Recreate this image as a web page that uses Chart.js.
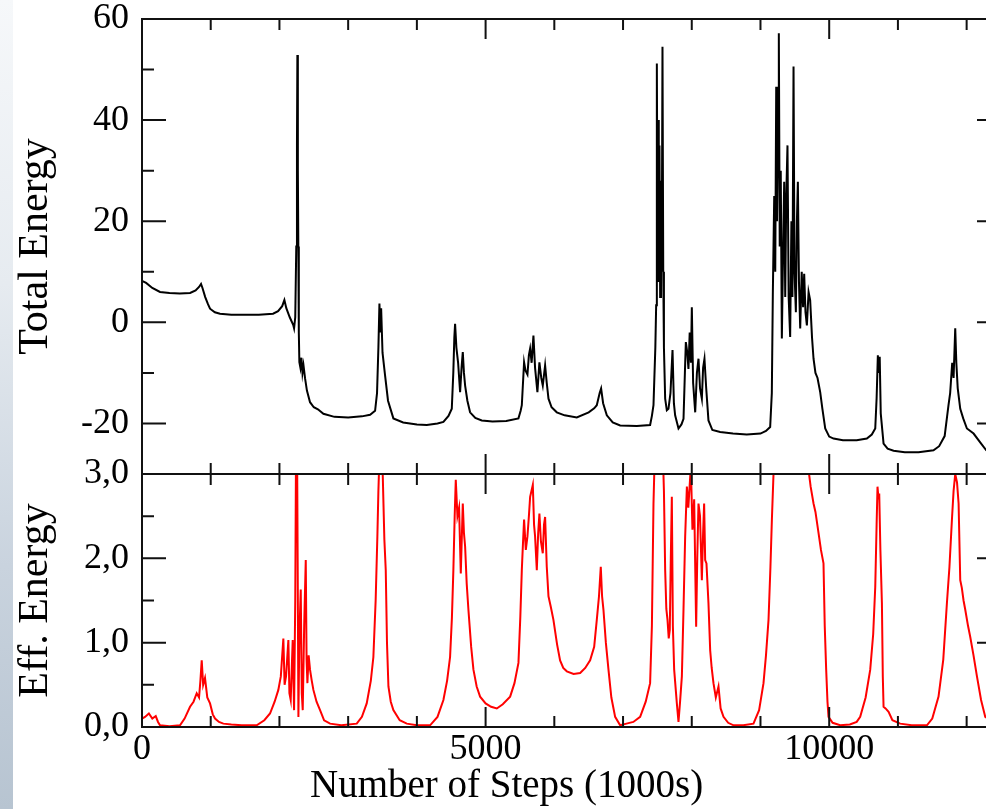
<!DOCTYPE html>
<html>
<head>
<meta charset="utf-8">
<script src="https://cdn.jsdelivr.net/npm/chart.js@4.4.1/dist/chart.umd.min.js"></script>
<style>
  html, body { margin: 0; padding: 0; background: #fff; overflow: hidden; width: 986px; height: 809px; }
  #strip { position: absolute; left: 0; top: 0; width: 13px; height: 809px;
           background: linear-gradient(to bottom, #f6f8fa 0%, #e6ebf0 35%, #c9d3de 70%, #b7c4d1 100%); }
  #wrap { position: absolute; left: 0; top: 0; width: 1004px; height: 809px; }
</style>
</head>
<body>
<div id="strip"></div>
<div id="wrap"><canvas id="canvas" width="1004" height="809"></canvas></div>
<script>
// steps (1000s) and total energy
var totalSteps = [0, 60, 150, 262, 400, 550, 700, 780, 830, 859, 880, 920, 960, 990, 1060, 1135, 1300, 1500, 1700, 1907,
  1980, 2040, 2072, 2100, 2150, 2200, 2213, 2230, 2245, 2255, 2261, 2268, 2275, 2282, 2290, 2305, 2320, 2335, 2350, 2373,
  2400, 2445, 2500, 2560, 2640, 2800, 3000, 3200, 3319, 3392, 3420, 3440, 3455, 3470, 3480, 3500, 3537, 3580, 3658, 3800,
  4000, 4144, 4300, 4386, 4460, 4508, 4530, 4545, 4556, 4575, 4600, 4629, 4650, 4668, 4685, 4702, 4735, 4774, 4850, 4944,
  5100, 5300, 5478, 5510, 5527, 5560, 5580, 5609, 5630, 5648, 5670, 5696, 5720, 5754, 5783, 5810, 5832, 5866, 5890, 5915,
  5960, 6036, 6150, 6327, 6500, 6580, 6618, 6660, 6681, 6710, 6764, 6850, 6958, 7200, 7394, 7420, 7443, 7470, 7482, 7492,
  7500, 7510, 7520, 7530, 7540, 7552, 7563, 7574, 7585, 7595, 7613, 7637, 7661, 7690, 7720, 7740, 7758, 7807, 7850, 7880,
  7900, 7914, 7935, 7952, 7970, 7988, 8001, 8020, 8050, 8075, 8098, 8120, 8147, 8165, 8185, 8210, 8243, 8300, 8413, 8600,
  8800, 9000, 9080, 9141, 9165, 9180, 9200, 9215, 9229, 9240, 9255, 9267, 9280, 9295, 9311, 9330, 9345, 9360, 9375, 9393,
  9410, 9432, 9450, 9465, 9481, 9495, 9515, 9530, 9544, 9560, 9578, 9600, 9620, 9636, 9655, 9675, 9700, 9723, 9750, 9772,
  9800, 9830, 9869, 9900, 9942, 10000, 10063, 10200, 10400, 10548, 10620, 10670, 10690, 10708, 10720, 10735, 10750, 10791, 10850, 10937,
  11100, 11300, 11518, 11600, 11680, 11736, 11760, 11790, 11810, 11834, 11850, 11870, 11907, 11950, 12004, 12101, 12200, 12285, 12400, 12500];
var totalEnergy = [8.2, 7.8, 6.8, 6.0, 5.8, 5.7, 5.8, 6.3, 7.0, 7.6, 6.8, 5.0, 3.6, 2.7, 2.0, 1.7, 1.5, 1.5, 1.5, 1.7,
  2.2, 3.2, 4.4, 2.8, 1.0, -0.5, -1.2, 1.0, 15, 35, 52.9, 30, 15, -2, -7.9, -9.0, -7.0, -10, -8.5, -11.1,
  -13.5, -15.8, -16.8, -17.2, -18.1, -18.7, -18.8, -18.6, -18.3, -17.5, -14, -5, 3.7, -2, 2.8, -6, -10.5, -15.5, -19.0, -19.8,
  -20.2, -20.3, -20.0, -19.7, -18.5, -17.1, -10, -3, -0.3, -5, -8, -13.8, -9, -5.9, -10, -12.5, -15.5, -17.8, -18.9, -19.4,
  -19.6, -19.5, -19.0, -17.5, -16.4, -7.9, -9.5, -10.3, -6.5, -5.2, -8, -2.6, -9, -13.8, -7.9, -11, -12.5, -8.5, -12, -15.1,
  -16.8, -17.8, -18.4, -18.8, -17.8, -17.0, -16.4, -14.0, -13.1, -16.0, -18.4, -19.8, -20.4, -20.5, -20.3, -18.5, -16.4, -5, 3.4, 51.2,
  20, 40, 8, 35, 5, 28, 10, 54.5, 10, -5, -15.1, -17.4, -17.1, -14, -5.5, -16, -18.4, -21.0, -20.2, -19.1,
  -10, -3.9, -6, -9.2, -2, -8, 3.0, -12, -17.8, -10, -7.2, -13, -15.1, -9, -7.2, -13, -19.4, -21.3, -21.7, -22.0,
  -22.2, -22.0, -21.5, -20.7, -14, 6.0, 25, 10, 46.6, 20, 40, 57.2, 15, 30, -3.2, 15, 27.8, 5, 25, 35.0,
  5, -2.9, 20, 5, 50.6, 10, 2.0, 20, 27.8, 8, -1.2, 10, 3, 9.6, 2, -0.6, 6, 4.4, -3, -7.2,
  -10, -11, -13.8, -17, -21.0, -22.6, -23.0, -23.3, -23.3, -23.0, -22.2, -21.0, -15, -6.5, -10, -6.8, -18, -24.0, -25.0, -25.4,
  -25.7, -25.7, -25.3, -24.5, -22.5, -16.4, -14, -8, -11, -1.2, -8, -13, -17.1, -19, -21.0, -22.0, -23.8, -25.3, -26, -26.3];

// steps (1000s) and effective energy
var effSteps = [0, 44, 100, 150, 200, 233, 262, 400, 553, 620, 699, 750, 796, 830, 850, 869, 890, 917, 950, 990,
  1030, 1063, 1120, 1184, 1300, 1450, 1669, 1780, 1863, 1930, 1984, 2020, 2057, 2075, 2096, 2130, 2145, 2164, 2193, 2213,
  2230, 2242, 2255, 2265, 2276, 2290, 2310, 2325, 2339, 2360, 2383, 2395, 2407, 2425, 2445, 2470, 2494, 2540, 2591, 2650,
  2737, 2900, 3125, 3200, 3270, 3330, 3367, 3400, 3425, 3440, 3455, 3480, 3503, 3527, 3547, 3565, 3586, 3620, 3658, 3750,
  3853, 4000, 4192, 4300, 4386, 4440, 4483, 4510, 4531, 4550, 4566, 4590, 4614, 4639, 4668, 4685, 4702, 4725, 4750, 4790,
  4823, 4870, 4920, 5000, 5080, 5163, 5250, 5357, 5420, 5478, 5505, 5527, 5545, 5560, 5585, 5609, 5630, 5648, 5687, 5705,
  5720, 5745, 5765, 5783, 5805, 5832, 5850, 5866, 5890, 5915, 5950, 5987, 6040, 6084, 6130, 6182, 6280, 6376, 6450, 6521,
  6580, 6618, 6650, 6676, 6695, 6715, 6750, 6788, 6830, 6885, 6958, 7050, 7150, 7249, 7330, 7394, 7420, 7443, 7470, 7500,
  7530, 7560, 7574, 7595, 7613, 7630, 7647, 7665, 7680, 7695, 7710, 7725, 7744, 7783, 7807, 7830, 7856, 7880, 7904, 7929,
  7950, 7987, 8010, 8035, 8064, 8080, 8098, 8120, 8147, 8165, 8180, 8195, 8214, 8243, 8268, 8290, 8316, 8350, 8389, 8420,
  8462, 8530, 8608, 8750, 8898, 8980, 9044, 9080, 9117, 9145, 9166, 9190, 9230, 9400, 9600, 9699, 9730, 9772, 9800, 9845,
  9880, 9917, 9935, 9956, 9975, 9990, 10050, 10160, 10300, 10400, 10451, 10530, 10597, 10640, 10670, 10690, 10703, 10718, 10728, 10745,
  10767, 10780, 10791, 10820, 10864, 10920, 11033, 11200, 11422, 11500, 11591, 11660, 11713, 11750, 11786, 11810, 11834, 11860, 11883, 11907,
  11930, 11955, 11980, 12020, 12052, 12100, 12150, 12210, 12271, 12400, 12500];
var effEnergy = [0.10, 0.12, 0.16, 0.10, 0.13, 0.06, 0.02, 0.01, 0.02, 0.10, 0.24, 0.30, 0.40, 0.35, 0.55, 0.79, 0.50, 0.58, 0.35, 0.28,
  0.15, 0.10, 0.06, 0.04, 0.03, 0.02, 0.02, 0.08, 0.16, 0.30, 0.44, 0.60, 1.05, 0.50, 0.60, 1.03, 0.40, 0.32, 1.03, 0.20,
  1.5, 3.4, 3.6, 2.0, 0.12, 1.1, 1.63, 0.4, 0.2, 1.2, 1.98, 0.8, 0.52, 0.85, 0.68, 0.55, 0.44, 0.30, 0.20, 0.08,
  0.04, 0.02, 0.04, 0.12, 0.28, 0.55, 0.83, 1.5, 2.26, 2.8, 3.2, 3.3, 3.0, 2.22, 1.86, 1.0, 0.48, 0.30, 0.20, 0.08,
  0.04, 0.02, 0.02, 0.12, 0.32, 0.55, 0.83, 1.3, 1.86, 2.5, 2.93, 2.5, 2.6, 1.82, 2.65, 2.3, 2.14, 1.7, 1.39, 0.95,
  0.68, 0.48, 0.36, 0.28, 0.24, 0.22, 0.27, 0.36, 0.52, 0.76, 1.3, 1.86, 2.2, 2.46, 2.1, 2.26, 2.5, 2.73, 2.87, 2.4,
  2.26, 1.86, 2.3, 2.53, 2.2, 2.06, 2.4, 2.49, 1.9, 1.55, 1.42, 1.27, 0.98, 0.79, 0.70, 0.66, 0.63, 0.64, 0.70, 0.79,
  0.95, 1.27, 1.55, 1.90, 1.55, 1.39, 1.00, 0.68, 0.35, 0.12, 0.02, 0.04, 0.06, 0.12, 0.30, 0.52, 1.2, 2.65, 3.5, 3.4,
  3.5, 3.4, 3.4, 2.8, 1.86, 1.4, 1.27, 1.05, 1.15, 2.0, 2.73, 1.2, 0.68, 0.28, 0.06, 0.30, 0.60, 1.4, 2.26, 2.85,
  2.6, 3.1, 2.34, 2.7, 1.19, 2.0, 2.65, 2.5, 1.74, 2.3, 2.65, 1.98, 1.94, 1.47, 0.91, 0.70, 0.52, 0.35, 0.48, 0.22,
  0.12, 0.05, 0.02, 0.02, 0.04, 0.20, 0.52, 0.85, 1.27, 1.9, 2.46, 3.01, 3.5, 3.6, 3.5, 3.05, 2.85, 2.65, 2.55, 2.30,
  2.1, 1.94, 1.2, 0.68, 0.3, 0.12, 0.05, 0.02, 0.03, 0.06, 0.12, 0.35, 0.68, 1.1, 1.66, 2.4, 2.85, 2.7, 2.77, 2.1,
  1.47, 0.6, 0.24, 0.22, 0.18, 0.08, 0.04, 0.02, 0.02, 0.10, 0.36, 0.80, 1.47, 1.9, 2.46, 2.8, 3.0, 2.9, 2.65, 1.74,
  1.65, 1.5, 1.39, 1.2, 1.07, 0.85, 0.60, 0.32, 0.12, 0.05, 0.03];

// tick values and their labels ('' = minor tick, no label)
var xTicks = [0, 1000, 2000, 3000, 4000, 5000, 6000, 7000, 8000, 9000, 10000, 11000, 12000];
var xLabels = ['0', '', '', '', '', '5000', '', '', '', '', '10000', '', ''];
var topTicks = [-30, -20, -10, 0, 10, 20, 30, 40, 50, 60];
var topLabels = ['', '-20', '', '0', '', '20', '', '40', '', '60'];
var botTicks = [0, 0.5, 1, 1.5, 2, 2.5, 3];
var botLabels = ['0,0', '', '1,0', '', '2,0', '', '3,0'];

var serif = '"Liberation Serif", "Times New Roman", serif';

function pairs(xs, ys) {
    return xs.map(function (x, i) { return {x: x, y: ys[i]}; });
}

// fixed tick lists instead of letting chart.js pick them
function fixTicks(values, labels) {
    return {
        afterBuildTicks: function (s) { s.ticks = values.map(function (v) { return {value: v}; }); },
        afterTickToLabelConversion: function (s) {
            s.ticks.forEach(function (t) { t.label = labels[values.indexOf(t.value)]; });
        }
    };
}

// frame round each panel and inward ticks on all four sides (xmgrace style)
var frameTicks = {
    id: 'frameTicks',
    afterDatasetsDraw: function (chart) {
        var ctx = chart.ctx;
        var area = chart.chartArea;
        var xs = chart.scales.x;
        ctx.save();
        ctx.strokeStyle = '#111';
        ctx.lineWidth = 2;
        ['yTop', 'yBot'].forEach(function (id) {
            var ys = chart.scales[id];
            ctx.strokeRect(area.left, ys.top, area.right - area.left, ys.bottom - ys.top);
            ctx.beginPath();
            ys.ticks.forEach(function (t) {
                var py = ys.getPixelForValue(t.value);
                var len = t.label ? 24 : 12;
                ctx.moveTo(area.left, py); ctx.lineTo(area.left + len, py);
                ctx.moveTo(area.right, py); ctx.lineTo(area.right - len, py);
            });
            xs.ticks.forEach(function (t) {
                var px = xs.getPixelForValue(t.value);
                var len = t.label ? 20 : 11;
                ctx.moveTo(px, ys.top); ctx.lineTo(px, ys.top + len);
                ctx.moveTo(px, ys.bottom); ctx.lineTo(px, ys.bottom - len);
            });
            ctx.stroke();
        });
        // x axis title, set left of centre like the original
        ctx.fillStyle = '#000';
        ctx.font = '39px ' + serif;
        ctx.textAlign = 'left';
        ctx.textBaseline = 'alphabetic';
        ctx.fillText('Number of Steps (1000s)', area.left + 168, xs.bottom - 12);
        ctx.restore();
    }
};

window.onload = function () {
    var ctx = document.getElementById('canvas').getContext('2d');
    var tickFont = {family: serif, size: 36};
    var titleFont = {family: serif, size: 42};
    var xFix = fixTicks(xTicks, xLabels);
    var topFix = fixTicks(topTicks, topLabels);
    var botFix = fixTicks(botTicks, botLabels);
    window.myChart = new Chart(ctx, {
        type: 'line',
        data: {
            datasets: [{
                label: 'Total Energy',
                data: pairs(totalSteps, totalEnergy),
                yAxisID: 'yTop',
                borderColor: '#000',
                borderWidth: 2,
                pointRadius: 0,
                tension: 0,
                fill: false
            }, {
                label: 'Eff. Energy',
                data: pairs(effSteps, effEnergy),
                yAxisID: 'yBot',
                borderColor: '#ff0000',
                borderWidth: 2,
                pointRadius: 0,
                tension: 0,
                fill: false
            }]
        },
        options: {
            responsive: false,
            animation: false,
            parsing: false,
            layout: {padding: {top: 19, right: 3, bottom: 0, left: 0}},
            plugins: {legend: {display: false}, tooltip: {enabled: false}},
            scales: {
                x: {
                    type: 'linear', position: 'bottom', min: 0, max: 12500,
                    grid: {display: false, drawTicks: false}, border: {display: false},
                    ticks: {autoSkip: false, maxRotation: 0, font: tickFont, color: '#000', padding: 1},
                    afterBuildTicks: xFix.afterBuildTicks,
                    afterTickToLabelConversion: xFix.afterTickToLabelConversion,
                    afterFit: function (s) { s.height = 82; s.paddingLeft = 0; s.paddingRight = 0; }
                },
                // bottom panel first: chart.js stacks later left axes above earlier ones
                yBot: {
                    type: 'linear', position: 'left', stack: 'panels', stackWeight: 253,
                    min: 0, max: 3,
                    grid: {display: false, drawTicks: false}, border: {display: false},
                    ticks: {autoSkip: false, font: tickFont, color: '#000', padding: 13},
                    afterBuildTicks: botFix.afterBuildTicks,
                    afterTickToLabelConversion: botFix.afterTickToLabelConversion,
                    title: {display: true, text: 'Eff. Energy', font: titleFont, color: '#000', padding: {top: 11, bottom: 0}},
                    afterFit: function (s) { s.width = 142; s.paddingTop = 0; s.paddingBottom = 0; }
                },
                yTop: {
                    type: 'linear', position: 'left', stack: 'panels', stackWeight: 455,
                    min: -30, max: 60,
                    grid: {display: false, drawTicks: false}, border: {display: false},
                    ticks: {autoSkip: false, font: tickFont, color: '#000', padding: 13},
                    afterBuildTicks: topFix.afterBuildTicks,
                    afterTickToLabelConversion: topFix.afterTickToLabelConversion,
                    title: {display: true, text: 'Total Energy', font: titleFont, color: '#000', padding: {top: 11, bottom: 0}},
                    afterFit: function (s) { s.width = 142; s.paddingTop = 0; s.paddingBottom = 0; }
                }
            }
        },
        plugins: [frameTicks]
    });
};
</script>
</body>
</html>
